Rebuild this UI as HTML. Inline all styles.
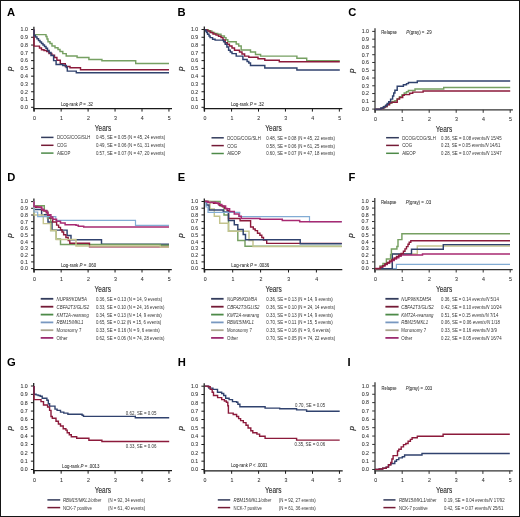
<!DOCTYPE html>
<html><head><meta charset="utf-8"><title>Figure</title>
<style>html,body{margin:0;padding:0;background:#fff;overflow:hidden;}svg{display:block;will-change:transform;}</style>
</head><body>
<svg width="520" height="517" viewBox="0 0 520 517" font-family="'Liberation Sans', sans-serif" fill="#333">
<rect x="0" y="0" width="520" height="517" fill="#fff"/>
<g>
<text x="6.9" y="16.2" font-size="11.2" fill="#000" font-weight="bold">A</text>
<text transform="translate(12.4 68.9) rotate(-90)" font-size="8" text-anchor="middle" fill="#333" stroke="#333" stroke-width="0.2" font-style="italic">p</text>
<path d="M33.9 26.8V111.6" stroke="#1a1a1a" stroke-width="1.25" fill="none"/>
<path d="M33.3 108.6H172" stroke="#1a1a1a" stroke-width="1.25" fill="none"/>
<path d="M31.1 107.3H33.9M31.1 99.52H33.9M31.1 91.74H33.9M31.1 83.96H33.9M31.1 76.18H33.9M31.1 68.4H33.9M31.1 60.62H33.9M31.1 52.84H33.9M31.1 45.06H33.9M31.1 37.28H33.9M31.1 29.5H33.9M34.2 108.6V111.6M61.15 108.6V111.6M88.1 108.6V111.6M115.05 108.6V111.6M142 108.6V111.6M168.95 108.6V111.6" stroke="#1a1a1a" stroke-width="1" fill="none"/>
<text x="27.9" y="109.15" font-size="5.25" text-anchor="end" fill="#303030" stroke="#303030" stroke-width="0.06">0.0</text>
<text x="27.9" y="101.37" font-size="5.25" text-anchor="end" fill="#303030" stroke="#303030" stroke-width="0.06">0.1</text>
<text x="27.9" y="93.59" font-size="5.25" text-anchor="end" fill="#303030" stroke="#303030" stroke-width="0.06">0.2</text>
<text x="27.9" y="85.81" font-size="5.25" text-anchor="end" fill="#303030" stroke="#303030" stroke-width="0.06">0.3</text>
<text x="27.9" y="78.03" font-size="5.25" text-anchor="end" fill="#303030" stroke="#303030" stroke-width="0.06">0.4</text>
<text x="27.9" y="70.25" font-size="5.25" text-anchor="end" fill="#303030" stroke="#303030" stroke-width="0.06">0.5</text>
<text x="27.9" y="62.47" font-size="5.25" text-anchor="end" fill="#303030" stroke="#303030" stroke-width="0.06">0.6</text>
<text x="27.9" y="54.69" font-size="5.25" text-anchor="end" fill="#303030" stroke="#303030" stroke-width="0.06">0.7</text>
<text x="27.9" y="46.91" font-size="5.25" text-anchor="end" fill="#303030" stroke="#303030" stroke-width="0.06">0.8</text>
<text x="27.9" y="39.13" font-size="5.25" text-anchor="end" fill="#303030" stroke="#303030" stroke-width="0.06">0.9</text>
<text x="27.9" y="31.35" font-size="5.25" text-anchor="end" fill="#303030" stroke="#303030" stroke-width="0.06">1.0</text>
<text x="34.5" y="119.75" font-size="5.25" text-anchor="middle" fill="#303030" stroke="#303030" stroke-width="0.06">0</text>
<text x="61.45" y="119.75" font-size="5.25" text-anchor="middle" fill="#303030" stroke="#303030" stroke-width="0.06">1</text>
<text x="88.4" y="119.75" font-size="5.25" text-anchor="middle" fill="#303030" stroke="#303030" stroke-width="0.06">2</text>
<text x="115.35" y="119.75" font-size="5.25" text-anchor="middle" fill="#303030" stroke="#303030" stroke-width="0.06">3</text>
<text x="142.3" y="119.75" font-size="5.25" text-anchor="middle" fill="#303030" stroke="#303030" stroke-width="0.06">4</text>
<text x="169.25" y="119.75" font-size="5.25" text-anchor="middle" fill="#303030" stroke="#303030" stroke-width="0.06">5</text>
<text x="94.8" y="130.7" font-size="9.4" fill="#333" stroke="#333" stroke-width="0.15" textLength="16.4" lengthAdjust="spacingAndGlyphs">Years</text>
<path d="M34 29.5H34V34.6H46V36.5H47V39H48V41.8H50V43.5H52V46H55V47.7H58V49.4H60V51.5H62.8V53.6H66.2V56H77.1V57.4H88.9V59.4H101.9V60.8H135.7V63.5H169" fill="none" stroke="#76a062" stroke-width="1.45" stroke-linejoin="miter"/>
<path d="M34 29.5H34V46.1H39.5V48H41.5V49.7H44V50.5H46.8V51.5H49V53.5H51.8V55.2H54.5V57.5H56.9V60.3H60.3V63.7H65.3V66.4H70V67.7H80.5V69.7H169" fill="none" stroke="#8c1a3b" stroke-width="1.45" stroke-linejoin="miter"/>
<path d="M34 29.5H34V35.4H35.5V37H37V38.8H38.5V40.5H40V42H41.5V43.5H43V45H44.5V46.5H46V48.2H47.5V50.5H49.1V52.5H51V55.5H53.6V60.6H56.1V64.5H62.8V65.4H66.3V67.5H67.3V71.1H76.3V72.8H169" fill="none" stroke="#30426e" stroke-width="1.45" stroke-linejoin="miter"/>
<path d="M41.1 137.4H53.5" stroke="#333c5c" stroke-width="1.5"/>
<text x="56.9" y="139.3" font-size="4.95" textLength="33.6" lengthAdjust="spacingAndGlyphs">DCOG/COG/SLH</text>
<text x="95.9" y="139.3" font-size="4.95" textLength="69.3" lengthAdjust="spacingAndGlyphs">0.45, SE = 0.05 (N = 45, 24 events)</text>
<path d="M41.1 145.3H53.5" stroke="#741a36" stroke-width="1.5"/>
<text x="56.9" y="147.2" font-size="4.95" textLength="10.02" lengthAdjust="spacingAndGlyphs">COG</text>
<text x="95.9" y="147.2" font-size="4.95" textLength="69.3" lengthAdjust="spacingAndGlyphs">0.49, SE = 0.06 (N = 61, 31 events)</text>
<path d="M41.1 153.1H53.5" stroke="#4d8a48" stroke-width="1.5"/>
<text x="56.9" y="155" font-size="4.95" textLength="13.45" lengthAdjust="spacingAndGlyphs">AIEOP</text>
<text x="95.9" y="155" font-size="4.95" textLength="69.3" lengthAdjust="spacingAndGlyphs">0.57, SE = 0.07 (N = 47, 20 events)</text>
<text x="60.9" y="105.6" font-size="4.95" stroke="#2a2a2a" stroke-width="0.06" textLength="32.1" lengthAdjust="spacingAndGlyphs">Log-rank <tspan font-style="italic">P</tspan> = .32</text>
</g>
<g>
<text x="177.5" y="16.2" font-size="11.2" fill="#000" font-weight="bold">B</text>
<text transform="translate(182.8 68.9) rotate(-90)" font-size="8" text-anchor="middle" fill="#333" stroke="#333" stroke-width="0.2" font-style="italic">p</text>
<path d="M204.3 26.5V111.6" stroke="#1a1a1a" stroke-width="1.25" fill="none"/>
<path d="M203.7 108.6H342.3" stroke="#1a1a1a" stroke-width="1.25" fill="none"/>
<path d="M201.5 107.3H204.3M201.5 99.52H204.3M201.5 91.74H204.3M201.5 83.96H204.3M201.5 76.18H204.3M201.5 68.4H204.3M201.5 60.62H204.3M201.5 52.84H204.3M201.5 45.06H204.3M201.5 37.28H204.3M201.5 29.5H204.3M204.6 108.6V111.6M231.55 108.6V111.6M258.5 108.6V111.6M285.45 108.6V111.6M312.4 108.6V111.6M339.35 108.6V111.6" stroke="#1a1a1a" stroke-width="1" fill="none"/>
<text x="198.3" y="109.15" font-size="5.25" text-anchor="end" fill="#303030" stroke="#303030" stroke-width="0.06">0.0</text>
<text x="198.3" y="101.37" font-size="5.25" text-anchor="end" fill="#303030" stroke="#303030" stroke-width="0.06">0.1</text>
<text x="198.3" y="93.59" font-size="5.25" text-anchor="end" fill="#303030" stroke="#303030" stroke-width="0.06">0.2</text>
<text x="198.3" y="85.81" font-size="5.25" text-anchor="end" fill="#303030" stroke="#303030" stroke-width="0.06">0.3</text>
<text x="198.3" y="78.03" font-size="5.25" text-anchor="end" fill="#303030" stroke="#303030" stroke-width="0.06">0.4</text>
<text x="198.3" y="70.25" font-size="5.25" text-anchor="end" fill="#303030" stroke="#303030" stroke-width="0.06">0.5</text>
<text x="198.3" y="62.47" font-size="5.25" text-anchor="end" fill="#303030" stroke="#303030" stroke-width="0.06">0.6</text>
<text x="198.3" y="54.69" font-size="5.25" text-anchor="end" fill="#303030" stroke="#303030" stroke-width="0.06">0.7</text>
<text x="198.3" y="46.91" font-size="5.25" text-anchor="end" fill="#303030" stroke="#303030" stroke-width="0.06">0.8</text>
<text x="198.3" y="39.13" font-size="5.25" text-anchor="end" fill="#303030" stroke="#303030" stroke-width="0.06">0.9</text>
<text x="198.3" y="31.35" font-size="5.25" text-anchor="end" fill="#303030" stroke="#303030" stroke-width="0.06">1.0</text>
<text x="204.9" y="119.75" font-size="5.25" text-anchor="middle" fill="#303030" stroke="#303030" stroke-width="0.06">0</text>
<text x="231.85" y="119.75" font-size="5.25" text-anchor="middle" fill="#303030" stroke="#303030" stroke-width="0.06">1</text>
<text x="258.8" y="119.75" font-size="5.25" text-anchor="middle" fill="#303030" stroke="#303030" stroke-width="0.06">2</text>
<text x="285.75" y="119.75" font-size="5.25" text-anchor="middle" fill="#303030" stroke="#303030" stroke-width="0.06">3</text>
<text x="312.7" y="119.75" font-size="5.25" text-anchor="middle" fill="#303030" stroke="#303030" stroke-width="0.06">4</text>
<text x="339.65" y="119.75" font-size="5.25" text-anchor="middle" fill="#303030" stroke="#303030" stroke-width="0.06">5</text>
<text x="265.3" y="130.7" font-size="9.4" fill="#333" stroke="#333" stroke-width="0.15" textLength="16.4" lengthAdjust="spacingAndGlyphs">Years</text>
<path d="M205 29.7H208.4V31H211.8V32.6H214.5V33.5H217.7V34.3H221V36H224.4V37.6H226V39.7H227.8V41.8H236.2V44H238.7V46H241.2V49.9H250.5V51.9H255.5V54.4H260.6V56.1H296.9V58.3H306.7V60.7H339.8" fill="none" stroke="#76a062" stroke-width="1.45" stroke-linejoin="miter"/>
<path d="M205 29.7H207V31H210.1V32.6H213V34H216V35.1H218.5V36.3H221V37.6H223V40H225.2V42.7H227.3V44.3H229.4V46H232V48H234.5V50.2H239.5V51.9H242V54H244.6V56.1H248.8V57.3H258V58.7H264.8V60.3H279.3V61.7H339.8" fill="none" stroke="#8c1a3b" stroke-width="1.45" stroke-linejoin="miter"/>
<path d="M205 29.7H205.5V31H206.5V32.5H207.6V34.3H209V36H210.1V37.6H212.6V39.3H215.1V40.1H223.6V41.8H225.2V44.3H226.9V46.9H228.6V50.2H230.3V52H232V53.6H236.2V56.1H242.9V59.5H247.1V61.5H248.8V62.9H250.5V65.4H264.8V67.9H296.9V69.9H339.8" fill="none" stroke="#30426e" stroke-width="1.45" stroke-linejoin="miter"/>
<path d="M211.5 137.8H223.8" stroke="#333c5c" stroke-width="1.5"/>
<text x="227.2" y="139.7" font-size="4.95" textLength="33.6" lengthAdjust="spacingAndGlyphs">DCOG/COG/SLH</text>
<text x="266.2" y="139.7" font-size="4.95" textLength="68.8" lengthAdjust="spacingAndGlyphs">0.48, SE = 0.08 (N = 45, 22 events)</text>
<path d="M211.5 145.6H223.8" stroke="#741a36" stroke-width="1.5"/>
<text x="227.2" y="147.5" font-size="4.95" textLength="10.02" lengthAdjust="spacingAndGlyphs">COG</text>
<text x="266.2" y="147.5" font-size="4.95" textLength="68.8" lengthAdjust="spacingAndGlyphs">0.58, SE = 0.06 (N = 61, 25 events)</text>
<path d="M211.5 153.5H223.8" stroke="#4d8a48" stroke-width="1.5"/>
<text x="227.2" y="155.4" font-size="4.95" textLength="13.45" lengthAdjust="spacingAndGlyphs">AIEOP</text>
<text x="266.2" y="155.4" font-size="4.95" textLength="68.8" lengthAdjust="spacingAndGlyphs">0.60, SE = 0.07 (N = 47, 18 events)</text>
<text x="230.9" y="106.1" font-size="4.95" stroke="#2a2a2a" stroke-width="0.06" textLength="33" lengthAdjust="spacingAndGlyphs">Log-rank <tspan font-style="italic">P</tspan> = .32</text>
</g>
<g>
<text x="348.2" y="16.4" font-size="11.2" fill="#000" font-weight="bold">C</text>
<text transform="translate(353.5 70.75) rotate(-90)" font-size="8" text-anchor="middle" fill="#333" stroke="#333" stroke-width="0.2" font-style="italic">p</text>
<path d="M375 28.2V112.8" stroke="#333" stroke-width="1.25" fill="none"/>
<path d="M374.4 109.8H512.9" stroke="#333" stroke-width="1.25" fill="none"/>
<path d="M372.2 109.1H375M372.2 101.33H375M372.2 93.56H375M372.2 85.79H375M372.2 78.02H375M372.2 70.25H375M372.2 62.48H375M372.2 54.71H375M372.2 46.94H375M372.2 39.17H375M372.2 31.4H375M375.2 109.8V112.8M402.2 109.8V112.8M429.2 109.8V112.8M456.2 109.8V112.8M483.2 109.8V112.8M510.2 109.8V112.8" stroke="#333" stroke-width="1" fill="none"/>
<text x="369" y="110.95" font-size="5.25" text-anchor="end" fill="#303030" stroke="#303030" stroke-width="0.06">0.0</text>
<text x="369" y="103.18" font-size="5.25" text-anchor="end" fill="#303030" stroke="#303030" stroke-width="0.06">0.1</text>
<text x="369" y="95.41" font-size="5.25" text-anchor="end" fill="#303030" stroke="#303030" stroke-width="0.06">0.2</text>
<text x="369" y="87.64" font-size="5.25" text-anchor="end" fill="#303030" stroke="#303030" stroke-width="0.06">0.3</text>
<text x="369" y="79.87" font-size="5.25" text-anchor="end" fill="#303030" stroke="#303030" stroke-width="0.06">0.4</text>
<text x="369" y="72.1" font-size="5.25" text-anchor="end" fill="#303030" stroke="#303030" stroke-width="0.06">0.5</text>
<text x="369" y="64.33" font-size="5.25" text-anchor="end" fill="#303030" stroke="#303030" stroke-width="0.06">0.6</text>
<text x="369" y="56.56" font-size="5.25" text-anchor="end" fill="#303030" stroke="#303030" stroke-width="0.06">0.7</text>
<text x="369" y="48.79" font-size="5.25" text-anchor="end" fill="#303030" stroke="#303030" stroke-width="0.06">0.8</text>
<text x="369" y="41.02" font-size="5.25" text-anchor="end" fill="#303030" stroke="#303030" stroke-width="0.06">0.9</text>
<text x="369" y="33.25" font-size="5.25" text-anchor="end" fill="#303030" stroke="#303030" stroke-width="0.06">1.0</text>
<text x="375.5" y="120.95" font-size="5.25" text-anchor="middle" fill="#303030" stroke="#303030" stroke-width="0.06">0</text>
<text x="402.5" y="120.95" font-size="5.25" text-anchor="middle" fill="#303030" stroke="#303030" stroke-width="0.06">1</text>
<text x="429.5" y="120.95" font-size="5.25" text-anchor="middle" fill="#303030" stroke="#303030" stroke-width="0.06">2</text>
<text x="456.5" y="120.95" font-size="5.25" text-anchor="middle" fill="#303030" stroke="#303030" stroke-width="0.06">3</text>
<text x="483.5" y="120.95" font-size="5.25" text-anchor="middle" fill="#303030" stroke="#303030" stroke-width="0.06">4</text>
<text x="510.5" y="120.95" font-size="5.25" text-anchor="middle" fill="#303030" stroke="#303030" stroke-width="0.06">5</text>
<text x="435.8" y="132.1" font-size="9.4" fill="#333" stroke="#333" stroke-width="0.15" textLength="16.4" lengthAdjust="spacingAndGlyphs">Years</text>
<path d="M375 109.1H381V108.3H384V106.4H387.2V104.5H389.5V103H392.2V101.4H394.9V100.6H397.2V98.7H399.5V96.8H401.8V94.9H404.2V92.9H406.5V91.7H408.4V90.5H415V88.9H443.7V87.5H510.2" fill="none" stroke="#76a062" stroke-width="1.45" stroke-linejoin="miter"/>
<path d="M375 109.1H381V108.5H383V107.5H385V106.5H387V104.8H389.5V103H391V102.2H397.2V99.1H399.5V97.5H402.7V95.2H404.2V94.6H409.6V93.3H412.7V92.1H423.1V90.9H510.2" fill="none" stroke="#8c1a3b" stroke-width="1.45" stroke-linejoin="miter"/>
<path d="M375 109.1H381V108H383.5V106.8H385.6V105.3H387.2V103.5H388.7V101.8H390.6V99.1H392.6V96H393.7V92.9H394.9V90.2H397.2V86.3H403.4V84.8H406.5V83.6H408.4V82.5H417.3V80.9H510.2" fill="none" stroke="#30426e" stroke-width="1.45" stroke-linejoin="miter"/>
<path d="M386.1 137.7H398.9" stroke="#333c5c" stroke-width="1.5"/>
<text x="402.2" y="139.6" font-size="4.95" textLength="33.7" lengthAdjust="spacingAndGlyphs">DCOG/COG/SLH</text>
<text x="441.1" y="139.6" font-size="4.95" textLength="60.5" lengthAdjust="spacingAndGlyphs">0.36, SE = 0.08 <tspan font-style="italic">events/N</tspan> 15/45</text>
<path d="M386.1 145.4H398.9" stroke="#741a36" stroke-width="1.5"/>
<text x="402.2" y="147.3" font-size="4.95" textLength="10.02" lengthAdjust="spacingAndGlyphs">COG</text>
<text x="441.1" y="147.3" font-size="4.95" textLength="59.2" lengthAdjust="spacingAndGlyphs">0.23, SE = 0.05 <tspan font-style="italic">events/N</tspan> 14/61</text>
<path d="M386.1 153.3H398.9" stroke="#4d8a48" stroke-width="1.5"/>
<text x="402.2" y="155.2" font-size="4.95" textLength="13.45" lengthAdjust="spacingAndGlyphs">AIEOP</text>
<text x="441.1" y="155.2" font-size="4.95" textLength="60.5" lengthAdjust="spacingAndGlyphs">0.28, SE = 0.07 <tspan font-style="italic">events/N</tspan> 13/47</text>
<text x="381.2" y="33.8" font-size="4.95" stroke="#2a2a2a" stroke-width="0.06" textLength="15.8" lengthAdjust="spacingAndGlyphs">Relapse</text>
<text x="406.3" y="33.8" font-size="4.95" stroke="#2a2a2a" stroke-width="0.06" textLength="25.4" lengthAdjust="spacingAndGlyphs"><tspan font-style="italic">P</tspan>(gray) = .29</text>
</g>
<g>
<text x="7.3" y="181.4" font-size="11.2" fill="#000" font-weight="bold">D</text>
<text transform="translate(12.4 235.6) rotate(-90)" font-size="8" text-anchor="middle" fill="#333" stroke="#333" stroke-width="0.2" font-style="italic">p</text>
<path d="M33.9 198.4V272.5" stroke="#1a1a1a" stroke-width="1.25" fill="none"/>
<path d="M33.3 269.5H171.8" stroke="#1a1a1a" stroke-width="1.25" fill="none"/>
<path d="M31.1 268.6H33.9M31.1 261.9H33.9M31.1 255.2H33.9M31.1 248.5H33.9M31.1 241.8H33.9M31.1 235.1H33.9M31.1 228.4H33.9M31.1 221.7H33.9M31.1 215H33.9M31.1 208.3H33.9M31.1 201.6H33.9M34.2 269.5V272.5M61.15 269.5V272.5M88.1 269.5V272.5M115.05 269.5V272.5M142 269.5V272.5M168.95 269.5V272.5" stroke="#1a1a1a" stroke-width="1" fill="none"/>
<text x="27.9" y="270.45" font-size="5.25" text-anchor="end" fill="#303030" stroke="#303030" stroke-width="0.06">0.0</text>
<text x="27.9" y="263.75" font-size="5.25" text-anchor="end" fill="#303030" stroke="#303030" stroke-width="0.06">0.1</text>
<text x="27.9" y="257.05" font-size="5.25" text-anchor="end" fill="#303030" stroke="#303030" stroke-width="0.06">0.2</text>
<text x="27.9" y="250.35" font-size="5.25" text-anchor="end" fill="#303030" stroke="#303030" stroke-width="0.06">0.3</text>
<text x="27.9" y="243.65" font-size="5.25" text-anchor="end" fill="#303030" stroke="#303030" stroke-width="0.06">0.4</text>
<text x="27.9" y="236.95" font-size="5.25" text-anchor="end" fill="#303030" stroke="#303030" stroke-width="0.06">0.5</text>
<text x="27.9" y="230.25" font-size="5.25" text-anchor="end" fill="#303030" stroke="#303030" stroke-width="0.06">0.6</text>
<text x="27.9" y="223.55" font-size="5.25" text-anchor="end" fill="#303030" stroke="#303030" stroke-width="0.06">0.7</text>
<text x="27.9" y="216.85" font-size="5.25" text-anchor="end" fill="#303030" stroke="#303030" stroke-width="0.06">0.8</text>
<text x="27.9" y="210.15" font-size="5.25" text-anchor="end" fill="#303030" stroke="#303030" stroke-width="0.06">0.9</text>
<text x="27.9" y="203.45" font-size="5.25" text-anchor="end" fill="#303030" stroke="#303030" stroke-width="0.06">1.0</text>
<text x="34.5" y="280.65" font-size="5.25" text-anchor="middle" fill="#303030" stroke="#303030" stroke-width="0.06">0</text>
<text x="61.45" y="280.65" font-size="5.25" text-anchor="middle" fill="#303030" stroke="#303030" stroke-width="0.06">1</text>
<text x="88.4" y="280.65" font-size="5.25" text-anchor="middle" fill="#303030" stroke="#303030" stroke-width="0.06">2</text>
<text x="115.35" y="280.65" font-size="5.25" text-anchor="middle" fill="#303030" stroke="#303030" stroke-width="0.06">3</text>
<text x="142.3" y="280.65" font-size="5.25" text-anchor="middle" fill="#303030" stroke="#303030" stroke-width="0.06">4</text>
<text x="169.25" y="280.65" font-size="5.25" text-anchor="middle" fill="#303030" stroke="#303030" stroke-width="0.06">5</text>
<text x="94.6" y="292" font-size="9.4" fill="#333" stroke="#333" stroke-width="0.15" textLength="16.4" lengthAdjust="spacingAndGlyphs">Years</text>
<path d="M34 201.6H34V209.5H41.6V214.7H48V222H52V230.1H67.1V235.5H71V239.8H101.5V244.2H169" fill="none" stroke="#30426e" stroke-width="1.45" stroke-linejoin="miter"/>
<path d="M34 201.6H34V205.8H44.3V211H47.5V218H50.8V230.5H56.2V239H60.5V244.5H160.3V245.3H169" fill="none" stroke="#76a062" stroke-width="1.45" stroke-linejoin="miter"/>
<path d="M34 201.6H34V207.3H41.6V210H43.6V210.8H46.3V212.7H47.8V215.4H49.6V218.1H52.7V222H56.6V225.1H58.6V227.4H60.5V229.7H62V232H63.6V234.8H65.9V237.5H68.2V240.6H69.8V243.3H89.5V246.9H169" fill="none" stroke="#8c1a3b" stroke-width="1.4" stroke-linejoin="miter"/>
<path d="M34 201.6H34V215H43.3V223.6H50.6V230.5H56.2V239.4H76V245.9H160.3V246.9H169" fill="none" stroke="#c4c48e" stroke-width="1.45" stroke-linejoin="miter"/>
<path d="M34 201.6H34V212H37.7V216.6H55.8V220.4H135.5V225.3H169" fill="none" stroke="#82acd4" stroke-width="1.2" stroke-linejoin="miter"/>
<path d="M34 201.6H34V206.5H37.7V207.3H41.6V209.2H43.6V210.4H46.7V212H47.8V214.7H50.9V217H52.7V219.3H56.5V221.3H60.5V223.1H65.1V224.7H76V225.3H78.3V226.2H83.7V227H169" fill="none" stroke="#a82a72" stroke-width="1.5" stroke-linejoin="miter"/>
<path d="M40.7 298.8H53.3" stroke="#333c5c" stroke-width="1.8"/>
<text x="56.6" y="300.7" font-size="4.95" font-style="italic" textLength="30.2" lengthAdjust="spacingAndGlyphs">NUP98/KDM5A</text>
<text x="95.9" y="300.7" font-size="4.95" textLength="66.2" lengthAdjust="spacingAndGlyphs">0.36, SE = 0.13 (N = 14, 9 events)</text>
<path d="M40.7 306.7H53.3" stroke="#741a36" stroke-width="1.8"/>
<text x="56.6" y="308.6" font-size="4.95" font-style="italic" textLength="32.5" lengthAdjust="spacingAndGlyphs">CBFA2T3/GLIS2</text>
<text x="95.9" y="308.6" font-size="4.95" textLength="68.5" lengthAdjust="spacingAndGlyphs">0.33, SE = 0.10 (N = 24, 16 events)</text>
<path d="M40.7 314.6H53.3" stroke="#4d8a48" stroke-width="1.8"/>
<text x="56.6" y="316.5" font-size="4.95" font-style="italic" textLength="32.2" lengthAdjust="spacingAndGlyphs">KMT2A-rearrang</text>
<text x="95.9" y="316.5" font-size="4.95" textLength="65.7" lengthAdjust="spacingAndGlyphs">0.34, SE = 0.13 (N = 14, 9 events)</text>
<path d="M40.7 322.4H53.3" stroke="#7898c0" stroke-width="1.8"/>
<text x="56.6" y="324.3" font-size="4.95" font-style="italic" textLength="26.8" lengthAdjust="spacingAndGlyphs">RBM15/MKL1</text>
<text x="95.9" y="324.3" font-size="4.95" textLength="65.4" lengthAdjust="spacingAndGlyphs">0.65, SE = 0.12 (N = 15, 6 events)</text>
<path d="M40.7 330.2H53.3" stroke="#aaa590" stroke-width="1.8"/>
<text x="56.6" y="332.1" font-size="4.95" textLength="24.8" lengthAdjust="spacingAndGlyphs">Monosomy 7</text>
<text x="95.9" y="332.1" font-size="4.95" textLength="63.9" lengthAdjust="spacingAndGlyphs">0.33, SE = 0.16 (N = 9, 6 events)</text>
<path d="M40.7 337.9H53.3" stroke="#9c2c70" stroke-width="1.8"/>
<text x="56.6" y="339.8" font-size="4.95" textLength="11" lengthAdjust="spacingAndGlyphs">Other</text>
<text x="95.9" y="339.8" font-size="4.95" textLength="68.5" lengthAdjust="spacingAndGlyphs">0.62, SE = 0.06 (N = 74, 28 events)</text>
<text x="60.9" y="267.4" font-size="4.95" stroke="#2a2a2a" stroke-width="0.06" textLength="35.2" lengthAdjust="spacingAndGlyphs">Log-rank <tspan font-style="italic">P</tspan> = .060</text>
</g>
<g>
<text x="177.8" y="181.4" font-size="11.2" fill="#000" font-weight="bold">E</text>
<text transform="translate(182.8 235.55) rotate(-90)" font-size="8" text-anchor="middle" fill="#333" stroke="#333" stroke-width="0.2" font-style="italic">p</text>
<path d="M204.3 198.4V272.5" stroke="#1a1a1a" stroke-width="1.25" fill="none"/>
<path d="M203.7 269.5H342.3" stroke="#1a1a1a" stroke-width="1.25" fill="none"/>
<path d="M201.5 268.6H204.3M201.5 261.89H204.3M201.5 255.18H204.3M201.5 248.47H204.3M201.5 241.76H204.3M201.5 235.05H204.3M201.5 228.34H204.3M201.5 221.63H204.3M201.5 214.92H204.3M201.5 208.21H204.3M201.5 201.5H204.3M204.8 269.5V272.5M232.7 269.5V272.5M260.6 269.5V272.5M288.5 269.5V272.5M316.4 269.5V272.5" stroke="#1a1a1a" stroke-width="1" fill="none"/>
<text x="198.3" y="270.45" font-size="5.25" text-anchor="end" fill="#303030" stroke="#303030" stroke-width="0.06">0.0</text>
<text x="198.3" y="263.74" font-size="5.25" text-anchor="end" fill="#303030" stroke="#303030" stroke-width="0.06">0.1</text>
<text x="198.3" y="257.03" font-size="5.25" text-anchor="end" fill="#303030" stroke="#303030" stroke-width="0.06">0.2</text>
<text x="198.3" y="250.32" font-size="5.25" text-anchor="end" fill="#303030" stroke="#303030" stroke-width="0.06">0.3</text>
<text x="198.3" y="243.61" font-size="5.25" text-anchor="end" fill="#303030" stroke="#303030" stroke-width="0.06">0.4</text>
<text x="198.3" y="236.9" font-size="5.25" text-anchor="end" fill="#303030" stroke="#303030" stroke-width="0.06">0.5</text>
<text x="198.3" y="230.19" font-size="5.25" text-anchor="end" fill="#303030" stroke="#303030" stroke-width="0.06">0.6</text>
<text x="198.3" y="223.48" font-size="5.25" text-anchor="end" fill="#303030" stroke="#303030" stroke-width="0.06">0.7</text>
<text x="198.3" y="216.77" font-size="5.25" text-anchor="end" fill="#303030" stroke="#303030" stroke-width="0.06">0.8</text>
<text x="198.3" y="210.06" font-size="5.25" text-anchor="end" fill="#303030" stroke="#303030" stroke-width="0.06">0.9</text>
<text x="198.3" y="203.35" font-size="5.25" text-anchor="end" fill="#303030" stroke="#303030" stroke-width="0.06">1.0</text>
<text x="205.1" y="280.65" font-size="5.25" text-anchor="middle" fill="#303030" stroke="#303030" stroke-width="0.06">0</text>
<text x="233" y="280.65" font-size="5.25" text-anchor="middle" fill="#303030" stroke="#303030" stroke-width="0.06">1</text>
<text x="260.9" y="280.65" font-size="5.25" text-anchor="middle" fill="#303030" stroke="#303030" stroke-width="0.06">2</text>
<text x="288.8" y="280.65" font-size="5.25" text-anchor="middle" fill="#303030" stroke="#303030" stroke-width="0.06">3</text>
<text x="316.7" y="280.65" font-size="5.25" text-anchor="middle" fill="#303030" stroke="#303030" stroke-width="0.06">4</text>
<text x="265.4" y="292" font-size="9.4" fill="#333" stroke="#333" stroke-width="0.15" textLength="16.4" lengthAdjust="spacingAndGlyphs">Years</text>
<path d="M205 201.5H220.1V206H224V215H228.5V231.3H237.8V240.5H245V246.3H341.8" fill="none" stroke="#76a062" stroke-width="1.45" stroke-linejoin="miter"/>
<path d="M205 201.5H210V208.9H214.3V216.2H219.7V223.2H228.5V231.3H249V240.5H253V246.6H341.8" fill="none" stroke="#c4c48e" stroke-width="1.45" stroke-linejoin="miter"/>
<path d="M205 201.5H208V202.6H213.5V203.4H218.2V203.8H219.3V205.4H222.5V206.9H224.8V208.4H227.1V210.4H228.5V218.5H240.1V220.8H250.6V227H253.3V229H255.2V230.6H257.5V233.3H259.9V235.2H261.8V237.5H263.5V240H266.7V243.4H341.8" fill="none" stroke="#8c1a3b" stroke-width="1.4" stroke-linejoin="miter"/>
<path d="M205 201.5H206.5V205H209V210H223.2V212H228.5V220.5H234.3V224.7H237.8V229.4H243.2V234.4H245.5V239.8H300.2V243.7H341.8" fill="none" stroke="#30426e" stroke-width="1.45" stroke-linejoin="miter"/>
<path d="M205 201.5H206V207H208V212.3H239.7V216.6H309.5V221.7H341.8" fill="none" stroke="#82acd4" stroke-width="1.2" stroke-linejoin="miter"/>
<path d="M205 201.5H207.8V202.3H215.5V203H218.6V204.6H221.7V206.1H225.6V208.8H229.6V211.5H234.3V213.9H238.9V216.2H241.3V218.5H260V219.2H282.3V220.5H299.7V221.7H341.8" fill="none" stroke="#a82a72" stroke-width="1.5" stroke-linejoin="miter"/>
<path d="M211.1 298.8H223.6" stroke="#333c5c" stroke-width="1.8"/>
<text x="227" y="300.7" font-size="4.95" font-style="italic" textLength="30.2" lengthAdjust="spacingAndGlyphs">NUP98/KDM5A</text>
<text x="266.3" y="300.7" font-size="4.95" textLength="66.5" lengthAdjust="spacingAndGlyphs">0.36, SE = 0.13 (N = 14, 9 events)</text>
<path d="M211.1 306.7H223.6" stroke="#741a36" stroke-width="1.8"/>
<text x="227" y="308.6" font-size="4.95" font-style="italic" textLength="32.5" lengthAdjust="spacingAndGlyphs">CBFA2T3/GLIS2</text>
<text x="266.3" y="308.6" font-size="4.95" textLength="68.8" lengthAdjust="spacingAndGlyphs">0.36, SE = 0.10 (N = 24, 14 events)</text>
<path d="M211.1 314.6H223.6" stroke="#4d8a48" stroke-width="1.8"/>
<text x="227" y="316.5" font-size="4.95" font-style="italic" textLength="32.2" lengthAdjust="spacingAndGlyphs">KMT2A-rearrang</text>
<text x="266.3" y="316.5" font-size="4.95" textLength="66.5" lengthAdjust="spacingAndGlyphs">0.33, SE = 0.13 (N = 14, 9 events)</text>
<path d="M211.1 322.4H223.6" stroke="#7898c0" stroke-width="1.8"/>
<text x="227" y="324.3" font-size="4.95" font-style="italic" textLength="26.8" lengthAdjust="spacingAndGlyphs">RBM15/MKL1</text>
<text x="266.3" y="324.3" font-size="4.95" textLength="66.5" lengthAdjust="spacingAndGlyphs">0.70, SE = 0.11 (N = 15, 5 events)</text>
<path d="M211.1 330.2H223.6" stroke="#aaa590" stroke-width="1.8"/>
<text x="227" y="332.1" font-size="4.95" textLength="24.8" lengthAdjust="spacingAndGlyphs">Monosomy 7</text>
<text x="266.3" y="332.1" font-size="4.95" textLength="64.2" lengthAdjust="spacingAndGlyphs">0.33, SE = 0.16 (N = 9, 6 events)</text>
<path d="M211.1 337.9H223.6" stroke="#9c2c70" stroke-width="1.8"/>
<text x="227" y="339.8" font-size="4.95" textLength="11" lengthAdjust="spacingAndGlyphs">Other</text>
<text x="266.3" y="339.8" font-size="4.95" textLength="68.8" lengthAdjust="spacingAndGlyphs">0.70, SE = 0.05 (N = 74, 22 events)</text>
<text x="231.3" y="267.1" font-size="4.95" stroke="#2a2a2a" stroke-width="0.06" textLength="38" lengthAdjust="spacingAndGlyphs">Log-rank <tspan font-style="italic">P</tspan> = .0036</text>
</g>
<g>
<text x="348.4" y="181.1" font-size="11.2" fill="#000" font-weight="bold">F</text>
<text transform="translate(353.3 235.5) rotate(-90)" font-size="8" text-anchor="middle" fill="#333" stroke="#333" stroke-width="0.2" font-style="italic">p</text>
<path d="M374.8 198V272.5" stroke="#333" stroke-width="1.25" fill="none"/>
<path d="M374.2 269.5H512.7" stroke="#333" stroke-width="1.25" fill="none"/>
<path d="M372 268.6H374.8M372 261.88H374.8M372 255.16H374.8M372 248.44H374.8M372 241.72H374.8M372 235H374.8M372 228.28H374.8M372 221.56H374.8M372 214.84H374.8M372 208.12H374.8M372 201.4H374.8M375.2 269.5V272.5M402.2 269.5V272.5M429.2 269.5V272.5M456.2 269.5V272.5M483.2 269.5V272.5M510.2 269.5V272.5" stroke="#333" stroke-width="1" fill="none"/>
<text x="368.8" y="270.45" font-size="5.25" text-anchor="end" fill="#303030" stroke="#303030" stroke-width="0.06">0.0</text>
<text x="368.8" y="263.73" font-size="5.25" text-anchor="end" fill="#303030" stroke="#303030" stroke-width="0.06">0.1</text>
<text x="368.8" y="257.01" font-size="5.25" text-anchor="end" fill="#303030" stroke="#303030" stroke-width="0.06">0.2</text>
<text x="368.8" y="250.29" font-size="5.25" text-anchor="end" fill="#303030" stroke="#303030" stroke-width="0.06">0.3</text>
<text x="368.8" y="243.57" font-size="5.25" text-anchor="end" fill="#303030" stroke="#303030" stroke-width="0.06">0.4</text>
<text x="368.8" y="236.85" font-size="5.25" text-anchor="end" fill="#303030" stroke="#303030" stroke-width="0.06">0.5</text>
<text x="368.8" y="230.13" font-size="5.25" text-anchor="end" fill="#303030" stroke="#303030" stroke-width="0.06">0.6</text>
<text x="368.8" y="223.41" font-size="5.25" text-anchor="end" fill="#303030" stroke="#303030" stroke-width="0.06">0.7</text>
<text x="368.8" y="216.69" font-size="5.25" text-anchor="end" fill="#303030" stroke="#303030" stroke-width="0.06">0.8</text>
<text x="368.8" y="209.97" font-size="5.25" text-anchor="end" fill="#303030" stroke="#303030" stroke-width="0.06">0.9</text>
<text x="368.8" y="203.25" font-size="5.25" text-anchor="end" fill="#303030" stroke="#303030" stroke-width="0.06">1.0</text>
<text x="375.5" y="280.65" font-size="5.25" text-anchor="middle" fill="#303030" stroke="#303030" stroke-width="0.06">0</text>
<text x="402.5" y="280.65" font-size="5.25" text-anchor="middle" fill="#303030" stroke="#303030" stroke-width="0.06">1</text>
<text x="429.5" y="280.65" font-size="5.25" text-anchor="middle" fill="#303030" stroke="#303030" stroke-width="0.06">2</text>
<text x="456.5" y="280.65" font-size="5.25" text-anchor="middle" fill="#303030" stroke="#303030" stroke-width="0.06">3</text>
<text x="483.5" y="280.65" font-size="5.25" text-anchor="middle" fill="#303030" stroke="#303030" stroke-width="0.06">4</text>
<text x="510.5" y="280.65" font-size="5.25" text-anchor="middle" fill="#303030" stroke="#303030" stroke-width="0.06">5</text>
<text x="435.9" y="291.9" font-size="9.4" fill="#333" stroke="#333" stroke-width="0.15" textLength="16.4" lengthAdjust="spacingAndGlyphs">Years</text>
<path d="M375 268.6H396.4V264.4H510" fill="none" stroke="#82acd4" stroke-width="1.2" stroke-linejoin="miter"/>
<path d="M375 268.6H392.3V253.9H417.3V245.9H510" fill="none" stroke="#c4c48e" stroke-width="1.45" stroke-linejoin="miter"/>
<path d="M375 268.6H392.3V253.9H411.5V249.3H443.3V244.6H510" fill="none" stroke="#30426e" stroke-width="1.45" stroke-linejoin="miter"/>
<path d="M375 268.6H380V266H383V263.5H386.4V259H390.6V254.5H391.4V248.9H396.9V246.5H398V239.6H401.9V233.8H510" fill="none" stroke="#76a062" stroke-width="1.45" stroke-linejoin="miter"/>
<path d="M375 268.6H380.31V267.24H382.62V265.88H384.93V264.52H387.24V263.16H389.55V261.8H391.86V260.44H394.17V259.08H396.48V257.72H398.79V256.36H401.1V255H422.5V253.9H510" fill="none" stroke="#a82a72" stroke-width="1.5" stroke-linejoin="miter"/>
<path d="M375 268.6H380.31V267.09H382.62V265.58H384.93V264.07H387.24V262.56H389.55V261.05H391.86V259.54H394.17V258.03H396.48V256.52H398.79V255.01H401.1V253.5H403.4V251.2H405V248.9H406.5V246.6H408V244.3H409.2V242.3H410.8V240.7H510" fill="none" stroke="#8c1a3b" stroke-width="1.4" stroke-linejoin="miter"/>
<path d="M385.4 298.8H398.6" stroke="#333c5c" stroke-width="1.8"/>
<text x="401.3" y="300.7" font-size="4.95" font-style="italic" textLength="30.2" lengthAdjust="spacingAndGlyphs">NUP98/KDM5A</text>
<text x="441.1" y="300.7" font-size="4.95" textLength="57.8" lengthAdjust="spacingAndGlyphs">0.36, SE = 0.14 <tspan font-style="italic">events/N</tspan> 5/14</text>
<path d="M385.4 306.7H398.6" stroke="#741a36" stroke-width="1.8"/>
<text x="401.3" y="308.6" font-size="4.95" font-style="italic" textLength="32.5" lengthAdjust="spacingAndGlyphs">CBFA2T3/GLIS2</text>
<text x="441.1" y="308.6" font-size="4.95" textLength="60.5" lengthAdjust="spacingAndGlyphs">0.42, SE = 0.10 <tspan font-style="italic">events/N</tspan> 10/24</text>
<path d="M385.4 314.6H398.6" stroke="#4d8a48" stroke-width="1.8"/>
<text x="401.3" y="316.5" font-size="4.95" font-style="italic" textLength="32.2" lengthAdjust="spacingAndGlyphs">KMT2A-rearrang</text>
<text x="441.1" y="316.5" font-size="4.95" textLength="57.2" lengthAdjust="spacingAndGlyphs">0.51, SE = 0.15 <tspan font-style="italic">events/N</tspan> 7/14</text>
<path d="M385.4 322.4H398.6" stroke="#7898c0" stroke-width="1.8"/>
<text x="401.3" y="324.3" font-size="4.95" font-style="italic" textLength="26.8" lengthAdjust="spacingAndGlyphs">RBM15/MKL1</text>
<text x="441.1" y="324.3" font-size="4.95" textLength="58.8" lengthAdjust="spacingAndGlyphs">0.06, SE = 0.06 <tspan font-style="italic">events/N</tspan> 1/18</text>
<path d="M385.4 330.2H398.6" stroke="#aaa590" stroke-width="1.8"/>
<text x="401.3" y="332.1" font-size="4.95" textLength="24.8" lengthAdjust="spacingAndGlyphs">Monosomy 7</text>
<text x="441.1" y="332.1" font-size="4.95" textLength="55.8" lengthAdjust="spacingAndGlyphs">0.33, SE = 0.16 <tspan font-style="italic">events/N</tspan> 3/9</text>
<path d="M385.4 337.9H398.6" stroke="#9c2c70" stroke-width="1.8"/>
<text x="401.3" y="339.8" font-size="4.95" textLength="11" lengthAdjust="spacingAndGlyphs">Other</text>
<text x="441.1" y="339.8" font-size="4.95" textLength="60.5" lengthAdjust="spacingAndGlyphs">0.22, SE = 0.05 <tspan font-style="italic">events/N</tspan> 16/74</text>
<text x="380.9" y="204" font-size="4.95" stroke="#2a2a2a" stroke-width="0.06" textLength="15.6" lengthAdjust="spacingAndGlyphs">Relapse</text>
<text x="405.7" y="204" font-size="4.95" stroke="#2a2a2a" stroke-width="0.06" textLength="25.4" lengthAdjust="spacingAndGlyphs"><tspan font-style="italic">P</tspan>(gray) = .03</text>
</g>
<g>
<text x="6.9" y="366.4" font-size="11.2" fill="#000" font-weight="bold">G</text>
<text transform="translate(12.2 428.25) rotate(-90)" font-size="8" text-anchor="middle" fill="#333" stroke="#333" stroke-width="0.2" font-style="italic">p</text>
<path d="M33.7 382.9V473.7" stroke="#1a1a1a" stroke-width="1.25" fill="none"/>
<path d="M33.1 470.7H172" stroke="#1a1a1a" stroke-width="1.25" fill="none"/>
<path d="M30.9 469.5H33.7M30.9 461.15H33.7M30.9 452.8H33.7M30.9 444.45H33.7M30.9 436.1H33.7M30.9 427.75H33.7M30.9 419.4H33.7M30.9 411.05H33.7M30.9 402.7H33.7M30.9 394.35H33.7M30.9 386H33.7M34.2 470.7V473.7M61.15 470.7V473.7M88.1 470.7V473.7M115.05 470.7V473.7M142 470.7V473.7M168.95 470.7V473.7" stroke="#1a1a1a" stroke-width="1" fill="none"/>
<text x="27.7" y="471.35" font-size="5.25" text-anchor="end" fill="#303030" stroke="#303030" stroke-width="0.06">0.0</text>
<text x="27.7" y="463" font-size="5.25" text-anchor="end" fill="#303030" stroke="#303030" stroke-width="0.06">0.1</text>
<text x="27.7" y="454.65" font-size="5.25" text-anchor="end" fill="#303030" stroke="#303030" stroke-width="0.06">0.2</text>
<text x="27.7" y="446.3" font-size="5.25" text-anchor="end" fill="#303030" stroke="#303030" stroke-width="0.06">0.3</text>
<text x="27.7" y="437.95" font-size="5.25" text-anchor="end" fill="#303030" stroke="#303030" stroke-width="0.06">0.4</text>
<text x="27.7" y="429.6" font-size="5.25" text-anchor="end" fill="#303030" stroke="#303030" stroke-width="0.06">0.5</text>
<text x="27.7" y="421.25" font-size="5.25" text-anchor="end" fill="#303030" stroke="#303030" stroke-width="0.06">0.6</text>
<text x="27.7" y="412.9" font-size="5.25" text-anchor="end" fill="#303030" stroke="#303030" stroke-width="0.06">0.7</text>
<text x="27.7" y="404.55" font-size="5.25" text-anchor="end" fill="#303030" stroke="#303030" stroke-width="0.06">0.8</text>
<text x="27.7" y="396.2" font-size="5.25" text-anchor="end" fill="#303030" stroke="#303030" stroke-width="0.06">0.9</text>
<text x="27.7" y="387.85" font-size="5.25" text-anchor="end" fill="#303030" stroke="#303030" stroke-width="0.06">1.0</text>
<text x="34.5" y="481.85" font-size="5.25" text-anchor="middle" fill="#303030" stroke="#303030" stroke-width="0.06">0</text>
<text x="61.45" y="481.85" font-size="5.25" text-anchor="middle" fill="#303030" stroke="#303030" stroke-width="0.06">1</text>
<text x="88.4" y="481.85" font-size="5.25" text-anchor="middle" fill="#303030" stroke="#303030" stroke-width="0.06">2</text>
<text x="115.35" y="481.85" font-size="5.25" text-anchor="middle" fill="#303030" stroke="#303030" stroke-width="0.06">3</text>
<text x="142.3" y="481.85" font-size="5.25" text-anchor="middle" fill="#303030" stroke="#303030" stroke-width="0.06">4</text>
<text x="169.25" y="481.85" font-size="5.25" text-anchor="middle" fill="#303030" stroke="#303030" stroke-width="0.06">5</text>
<text x="94.7" y="492.9" font-size="9.4" fill="#333" stroke="#333" stroke-width="0.15" textLength="16.4" lengthAdjust="spacingAndGlyphs">Years</text>
<path d="M34 386H34V394.2H36.1V394.9H38.1V395.5H40.2V396.2H42.2V398.2H46.9V400.3H48.3V403.7H49.6V406.1H55V409.1H57.1V410.4H60.5V412.1H63.8V413.1H67.9V414.2H82.1V415.2H83.5V416.4H135.3V417.7H169.2" fill="none" stroke="#30426e" stroke-width="1.4" stroke-linejoin="miter"/>
<path d="M34 386H34V399.6H41V401.6H43.5V405H47.6V407H49.6V410.4H51V416.5H52.3V418.3H56V421.3H58.4V424H60.5V426H63.2V428.7H65.9V430.1H67.2V432.8H69.3V434.8H71.3V436.8H76.7V438.2H88.9V440.3H101.9V441.5H169.2" fill="none" stroke="#8c1a3b" stroke-width="1.4" stroke-linejoin="miter"/>
<path d="M47.4 499.9H60.2" stroke="#333c5c" stroke-width="1.5"/>
<text x="62.9" y="501.8" font-size="4.95" font-style="italic" textLength="38.4" lengthAdjust="spacingAndGlyphs">RBM15/MKL1/other</text>
<text x="108.1" y="501.8" font-size="4.95" textLength="37" lengthAdjust="spacingAndGlyphs">(N = 92, 34 events)</text>
<path d="M47.4 507.6H60.2" stroke="#741a36" stroke-width="1.5"/>
<text x="62.9" y="509.5" font-size="4.95" textLength="29" lengthAdjust="spacingAndGlyphs">NCK-7 positive</text>
<text x="108.1" y="509.5" font-size="4.95" textLength="37" lengthAdjust="spacingAndGlyphs">(N = 61, 40 events)</text>
<text x="62.1" y="467.7" font-size="4.95" stroke="#2a2a2a" stroke-width="0.06" textLength="37.4" lengthAdjust="spacingAndGlyphs">Log-rank <tspan font-style="italic">P</tspan> = .0013</text>
<text x="125.8" y="415.3" font-size="4.95" textLength="30.7" lengthAdjust="spacingAndGlyphs">0.62, SE = 0.05</text>
<text x="125.8" y="447.8" font-size="4.95" textLength="30.6" lengthAdjust="spacingAndGlyphs">0.33, SE = 0.06</text>
</g>
<g>
<text x="177.8" y="365.9" font-size="11.2" fill="#000" font-weight="bold">H</text>
<text transform="translate(182.7 428.35) rotate(-90)" font-size="8" text-anchor="middle" fill="#333" stroke="#333" stroke-width="0.2" font-style="italic">p</text>
<path d="M204.2 383.2V473.8" stroke="#1a1a1a" stroke-width="1.25" fill="none"/>
<path d="M203.6 470.8H342.7" stroke="#1a1a1a" stroke-width="1.25" fill="none"/>
<path d="M201.4 469.5H204.2M201.4 461.17H204.2M201.4 452.84H204.2M201.4 444.51H204.2M201.4 436.18H204.2M201.4 427.85H204.2M201.4 419.52H204.2M201.4 411.19H204.2M201.4 402.86H204.2M201.4 394.53H204.2M201.4 386.2H204.2M204.7 470.8V473.8M231.65 470.8V473.8M258.6 470.8V473.8M285.55 470.8V473.8M312.5 470.8V473.8M339.45 470.8V473.8" stroke="#1a1a1a" stroke-width="1" fill="none"/>
<text x="198.2" y="471.35" font-size="5.25" text-anchor="end" fill="#303030" stroke="#303030" stroke-width="0.06">0.0</text>
<text x="198.2" y="463.02" font-size="5.25" text-anchor="end" fill="#303030" stroke="#303030" stroke-width="0.06">0.1</text>
<text x="198.2" y="454.69" font-size="5.25" text-anchor="end" fill="#303030" stroke="#303030" stroke-width="0.06">0.2</text>
<text x="198.2" y="446.36" font-size="5.25" text-anchor="end" fill="#303030" stroke="#303030" stroke-width="0.06">0.3</text>
<text x="198.2" y="438.03" font-size="5.25" text-anchor="end" fill="#303030" stroke="#303030" stroke-width="0.06">0.4</text>
<text x="198.2" y="429.7" font-size="5.25" text-anchor="end" fill="#303030" stroke="#303030" stroke-width="0.06">0.5</text>
<text x="198.2" y="421.37" font-size="5.25" text-anchor="end" fill="#303030" stroke="#303030" stroke-width="0.06">0.6</text>
<text x="198.2" y="413.04" font-size="5.25" text-anchor="end" fill="#303030" stroke="#303030" stroke-width="0.06">0.7</text>
<text x="198.2" y="404.71" font-size="5.25" text-anchor="end" fill="#303030" stroke="#303030" stroke-width="0.06">0.8</text>
<text x="198.2" y="396.38" font-size="5.25" text-anchor="end" fill="#303030" stroke="#303030" stroke-width="0.06">0.9</text>
<text x="198.2" y="388.05" font-size="5.25" text-anchor="end" fill="#303030" stroke="#303030" stroke-width="0.06">1.0</text>
<text x="205" y="481.95" font-size="5.25" text-anchor="middle" fill="#303030" stroke="#303030" stroke-width="0.06">0</text>
<text x="231.95" y="481.95" font-size="5.25" text-anchor="middle" fill="#303030" stroke="#303030" stroke-width="0.06">1</text>
<text x="258.9" y="481.95" font-size="5.25" text-anchor="middle" fill="#303030" stroke="#303030" stroke-width="0.06">2</text>
<text x="285.85" y="481.95" font-size="5.25" text-anchor="middle" fill="#303030" stroke="#303030" stroke-width="0.06">3</text>
<text x="312.8" y="481.95" font-size="5.25" text-anchor="middle" fill="#303030" stroke="#303030" stroke-width="0.06">4</text>
<text x="339.75" y="481.95" font-size="5.25" text-anchor="middle" fill="#303030" stroke="#303030" stroke-width="0.06">5</text>
<text x="265.1" y="492.9" font-size="9.4" fill="#333" stroke="#333" stroke-width="0.15" textLength="16.4" lengthAdjust="spacingAndGlyphs">Years</text>
<path d="M205 386.1H208.8V388.1H212.9V389.4H217.5V392.2H221.7V393.5H223.7V395.5H225.7V398.2H229.1V399.6H232.5V401.6H236.6V402.3H237.9V404.3H239.9V406.8H265.1V408.1H279.7V408.8H296.6V409.9H306.6V411.2H339.7" fill="none" stroke="#30426e" stroke-width="1.4" stroke-linejoin="miter"/>
<path d="M205 386.1H208.1V386.7H210.2V389.4H212.2V392.2H213.5V395.5H217.6V397.6H221.7V399.6H224.4V401H226.4V402.3H227.8V405.7H228.4V413.1H233.2V414.5H236.6V416.5H238.6V418.6H240.6V420.6H243.3V422.6H246V425.3H248.1V428H250.8V430.7H252.8V432.8H256.9V434.1H259.6V436.3H265.1V438.4H296.6V440.1H339.7" fill="none" stroke="#8c1a3b" stroke-width="1.4" stroke-linejoin="miter"/>
<path d="M217.8 499.9H230.2" stroke="#333c5c" stroke-width="1.5"/>
<text x="233.6" y="501.8" font-size="4.95" font-style="italic" textLength="37.7" lengthAdjust="spacingAndGlyphs">RBM15/MKL1/other</text>
<text x="278.7" y="501.8" font-size="4.95" textLength="37.1" lengthAdjust="spacingAndGlyphs">(N = 92, 27 events)</text>
<path d="M217.8 507.6H230.2" stroke="#741a36" stroke-width="1.5"/>
<text x="233.6" y="509.5" font-size="4.95" textLength="28.3" lengthAdjust="spacingAndGlyphs">NCK-7 positive</text>
<text x="278.7" y="509.5" font-size="4.95" textLength="37.1" lengthAdjust="spacingAndGlyphs">(N = 61, 36 events)</text>
<text x="230.9" y="466.9" font-size="4.95" stroke="#2a2a2a" stroke-width="0.06" textLength="36.6" lengthAdjust="spacingAndGlyphs">Log-rank <tspan font-style="italic">P</tspan> &lt; .0001</text>
<text x="295.1" y="407" font-size="4.95" textLength="30" lengthAdjust="spacingAndGlyphs">0.70, SE = 0.05</text>
<text x="294.6" y="446" font-size="4.95" textLength="30.5" lengthAdjust="spacingAndGlyphs">0.35, SE = 0.06</text>
</g>
<g>
<text x="347.6" y="365.9" font-size="11.2" fill="#000" font-weight="bold">I</text>
<text transform="translate(353.5 428.2) rotate(-90)" font-size="8" text-anchor="middle" fill="#333" stroke="#333" stroke-width="0.2" font-style="italic">p</text>
<path d="M375 382.3V473.9" stroke="#333" stroke-width="1.25" fill="none"/>
<path d="M374.4 470.9H512.7" stroke="#333" stroke-width="1.25" fill="none"/>
<path d="M372.2 469.5H375M372.2 461.14H375M372.2 452.78H375M372.2 444.42H375M372.2 436.06H375M372.2 427.7H375M372.2 419.34H375M372.2 410.98H375M372.2 402.62H375M372.2 394.26H375M372.2 385.9H375M375.3 470.9V473.9M402.2 470.9V473.9M429.1 470.9V473.9M456 470.9V473.9M482.9 470.9V473.9M509.8 470.9V473.9" stroke="#333" stroke-width="1" fill="none"/>
<text x="369" y="471.35" font-size="5.25" text-anchor="end" fill="#303030" stroke="#303030" stroke-width="0.06">0.0</text>
<text x="369" y="462.99" font-size="5.25" text-anchor="end" fill="#303030" stroke="#303030" stroke-width="0.06">0.1</text>
<text x="369" y="454.63" font-size="5.25" text-anchor="end" fill="#303030" stroke="#303030" stroke-width="0.06">0.2</text>
<text x="369" y="446.27" font-size="5.25" text-anchor="end" fill="#303030" stroke="#303030" stroke-width="0.06">0.3</text>
<text x="369" y="437.91" font-size="5.25" text-anchor="end" fill="#303030" stroke="#303030" stroke-width="0.06">0.4</text>
<text x="369" y="429.55" font-size="5.25" text-anchor="end" fill="#303030" stroke="#303030" stroke-width="0.06">0.5</text>
<text x="369" y="421.19" font-size="5.25" text-anchor="end" fill="#303030" stroke="#303030" stroke-width="0.06">0.6</text>
<text x="369" y="412.83" font-size="5.25" text-anchor="end" fill="#303030" stroke="#303030" stroke-width="0.06">0.7</text>
<text x="369" y="404.47" font-size="5.25" text-anchor="end" fill="#303030" stroke="#303030" stroke-width="0.06">0.8</text>
<text x="369" y="396.11" font-size="5.25" text-anchor="end" fill="#303030" stroke="#303030" stroke-width="0.06">0.9</text>
<text x="369" y="387.75" font-size="5.25" text-anchor="end" fill="#303030" stroke="#303030" stroke-width="0.06">1.0</text>
<text x="375.6" y="482.05" font-size="5.25" text-anchor="middle" fill="#303030" stroke="#303030" stroke-width="0.06">0</text>
<text x="402.5" y="482.05" font-size="5.25" text-anchor="middle" fill="#303030" stroke="#303030" stroke-width="0.06">1</text>
<text x="429.4" y="482.05" font-size="5.25" text-anchor="middle" fill="#303030" stroke="#303030" stroke-width="0.06">2</text>
<text x="456.3" y="482.05" font-size="5.25" text-anchor="middle" fill="#303030" stroke="#303030" stroke-width="0.06">3</text>
<text x="483.2" y="482.05" font-size="5.25" text-anchor="middle" fill="#303030" stroke="#303030" stroke-width="0.06">4</text>
<text x="510.1" y="482.05" font-size="5.25" text-anchor="middle" fill="#303030" stroke="#303030" stroke-width="0.06">5</text>
<text x="435.9" y="492.9" font-size="9.4" fill="#333" stroke="#333" stroke-width="0.15" textLength="16.4" lengthAdjust="spacingAndGlyphs">Years</text>
<path d="M375 469.4H379.2V469H382.7V468.3H386.2V467.1H388.5V464.8H390.8V463.5H394.8V461.3H396.5V459.6H398.8V457.9H402.3V456.7H404.6V455H422V453.5H509.8" fill="none" stroke="#30426e" stroke-width="1.4" stroke-linejoin="miter"/>
<path d="M375 469.4H379.2V469H382.7V468.3H386.2V467.1H388.5V464.8H390.8V462.5H391.9V459H393.1V455.6H397.5V451H398.8V449.2H401.2V446.9H403.5V444.6H405.8V443.5H408.1V441.2H410.4V439.4H412.1V437.7H417.3V436.2H443.1V434.2H509.8" fill="none" stroke="#8c1a3b" stroke-width="1.4" stroke-linejoin="miter"/>
<path d="M383.4 499.9H395.5" stroke="#333c5c" stroke-width="1.5"/>
<text x="398.9" y="501.8" font-size="4.95" font-style="italic" textLength="37.6" lengthAdjust="spacingAndGlyphs">RBM15/MKL1/other</text>
<text x="444" y="501.8" font-size="4.95" textLength="60.6" lengthAdjust="spacingAndGlyphs">0.19, SE = 0.04 <tspan font-style="italic">events/N</tspan> 17/92</text>
<path d="M383.4 507.6H395.5" stroke="#741a36" stroke-width="1.5"/>
<text x="398.9" y="509.5" font-size="4.95" textLength="28.9" lengthAdjust="spacingAndGlyphs">NCK-7 positive</text>
<text x="444" y="509.5" font-size="4.95" textLength="59.3" lengthAdjust="spacingAndGlyphs">0.42, SE = 0.07 <tspan font-style="italic">events/N</tspan> 25/61</text>
<text x="381.5" y="390.4" font-size="4.95" stroke="#2a2a2a" stroke-width="0.06" textLength="15" lengthAdjust="spacingAndGlyphs">Relapse</text>
<text x="405.7" y="390.4" font-size="4.95" stroke="#2a2a2a" stroke-width="0.06" textLength="26.5" lengthAdjust="spacingAndGlyphs"><tspan font-style="italic">P</tspan>(gray) = .003</text>
</g>
<rect x="0.5" y="0.5" width="519" height="516" fill="none" stroke="#151515" stroke-width="1"/>
</svg>
</body></html>
